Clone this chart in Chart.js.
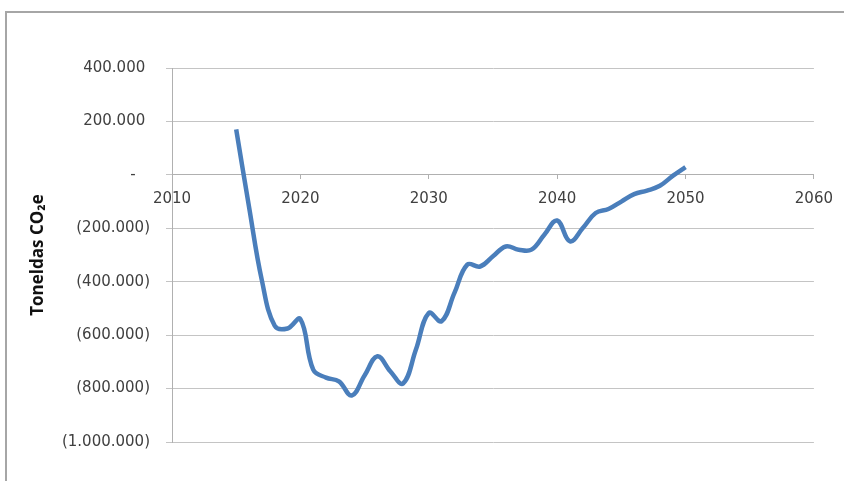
<!DOCTYPE html>
<html>
<head>
<meta charset="utf-8">
<script src="https://cdn.jsdelivr.net/npm/chart.js@4"></script>
<style>
  body { margin: 0; background: #fff; }
  #wrap { position: relative; width: 844px; height: 481px; overflow: hidden; }
  #frame { position: absolute; left: 5px; top: 11px; width: 900px; height: 500px; border: 2px solid #a6a6a6; box-sizing: border-box; }
  canvas { position: absolute; left: 0; top: 0; }
</style>
</head>
<body>
<div id="wrap">
  <div id="frame"></div>
  <canvas id="myChart" width="844" height="481"></canvas>
</div>
<script>
// years on the x axis and tonnes CO2e per year
var years = [2015,2016,2017,2018,2019,2020,2021,2022,2023,2024,2025,2026,2027,2028,2029,2030,2031,2032,
  2033,2034,2035,2036,2037,2038,2039,2040,2041,2042,2043,2044,2045,2046,2047,2048,2049,2050];
var emissions = [170000,-120000,-395000,-565000,-575000,-540000,-729000,-759000,-773000,-826000,-751000,-679000,
  -735000,-781000,-654000,-517000,-548000,-442000,-336000,-343000,-305000,-268000,-280000,-280000,-224000,-171000,
  -249000,-199000,-143000,-128000,-100000,-72000,-59000,-41000,-4000,29000];
var xTicks = [2010,2020,2030,2040,2050,2060];
var yMin = -1000000, yMax = 400000, yStep = 200000;

var points = years.map(function(y, i){ return {x: y, y: emissions[i]}; });

function fmt(v){
  return String(v).replace(/\B(?=(\d{3})+(?!\d))/g, '.');
}

var ctx = document.getElementById("myChart");
new Chart(ctx, {
  type: 'line',
  data: {
    datasets: [{
      data: points,
      borderColor: '#4a7ebb',
      borderWidth: 4.5,
      pointRadius: 0,
      tension: 0.4,
      fill: false
    }]
  },
  options: {
    responsive: false,
    animation: false,
    layout: { padding: { left: 0, top: 68, right: 30, bottom: 39 } },
    plugins: { legend: { display: false }, tooltip: { enabled: false } },
    scales: {
      x: {
        type: 'linear',
        position: { y: 0 },
        min: xTicks[0],
        max: xTicks[xTicks.length - 1],
        afterBuildTicks: function(scale){
          scale.ticks = xTicks.map(function(v){ return {value: v}; });
        },
        grid: { drawOnChartArea: false, color: '#b0b0b0', tickLength: 4 },
        border: { color: '#b0b0b0' },
        ticks: {
          color: '#404040',
          font: { family: 'DejaVu Sans', size: 15 },
          padding: 11,
          maxRotation: 0,
          callback: function(v){ return String(v); }
        }
      },
      y: {
        min: yMin,
        max: yMax,
        afterFit: function(scale){ scale.width = 172; },
        grid: { color: '#c4c4c4', tickLength: 6 },
        border: { color: '#b0b0b0' },
        ticks: {
          stepSize: yStep,
          color: '#404040',
          font: { family: 'DejaVu Sans', size: 15 },
          padding: 16,
          callback: function(v){
            if (v === 0) return '-   ';
            if (v < 0) return '(' + fmt(-v) + ')';
            return fmt(v) + ' ';
          }
        },
        title: {
          display: true,
          text: 'Toneldas CO₂e',
          color: '#111',
          font: { family: 'Open Sans', size: 17, weight: 'bold' },
          padding: { top: 28, bottom: 0 }
        }
      }
    }
  }
});
</script>
</body>
</html>
